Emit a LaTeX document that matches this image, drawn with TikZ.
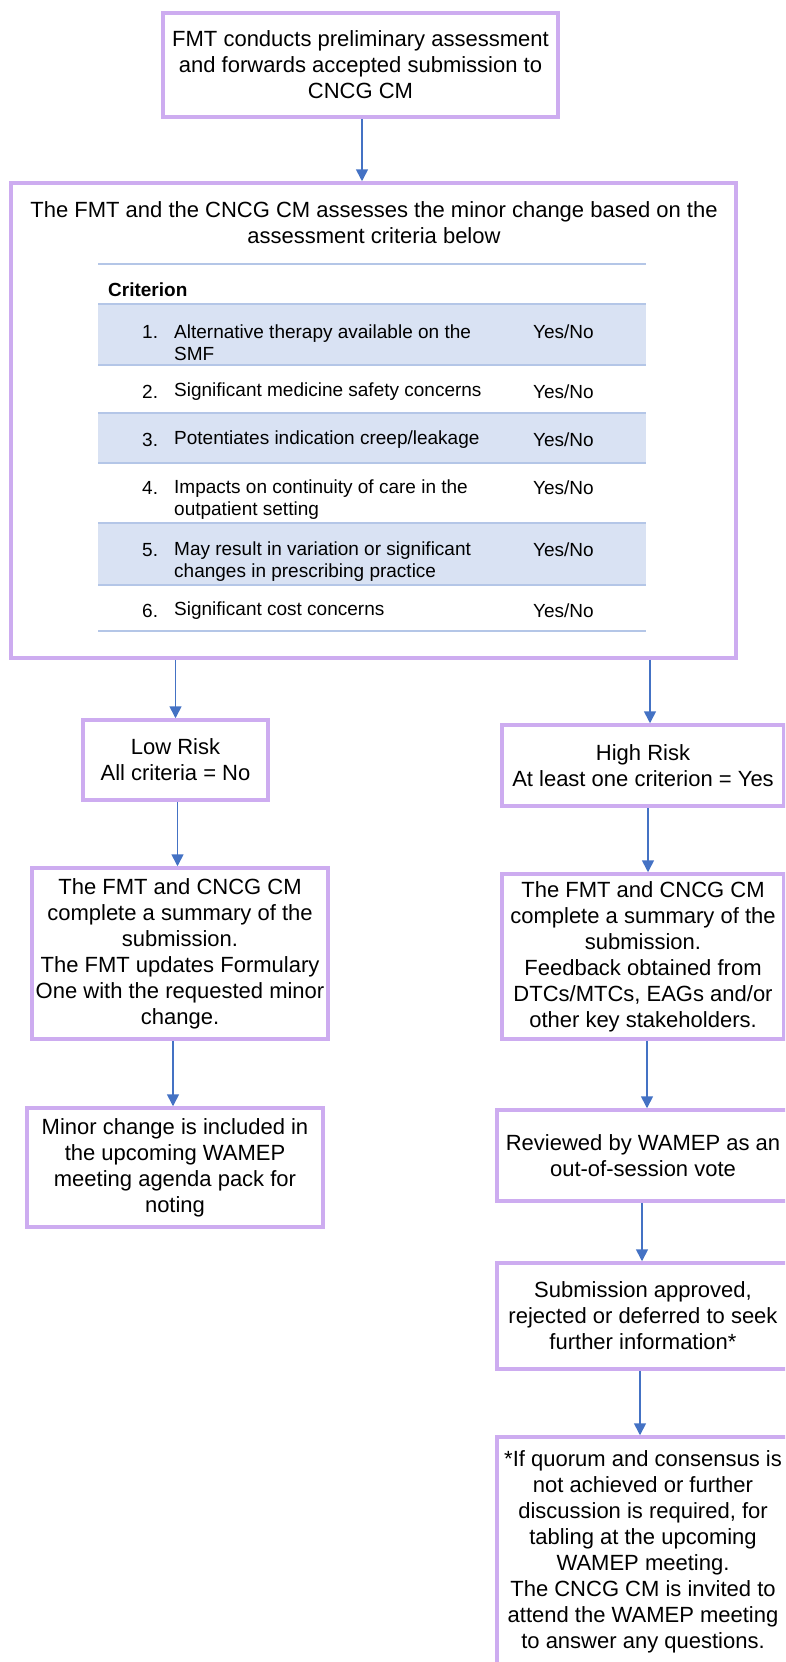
\documentclass[tikz,border=0pt]{standalone}
\usepackage{fontspec}
\setmainfont{Liberation Sans}
\usetikzlibrary{arrows.meta}
\definecolor{boxline}{RGB}{205,172,240}
\definecolor{arrowblue}{RGB}{68,114,196}
\definecolor{rowfill}{RGB}{217,226,243}
\definecolor{rulecol}{RGB}{180,198,231}
\begin{document}
\begin{tikzpicture}[x=1pt,y=-1pt,
  flowbox/.style={draw=boxline, line width=3.5pt, fill=white, inner sep=0pt,
    align=center, font=\fontsize{22}{26}\selectfont},
  flow/.style={draw=arrowblue, line width=1.6pt, -{Triangle[length=12pt,width=12pt]}},
  celltext/.style={anchor=west, inner sep=0pt, align=left, font=\fontsize{19}{22}\selectfont},
  tablerule/.style={draw=rulecol, line width=1.5pt}]

\useasboundingbox (0,0) rectangle (785,1662);
\clip (0,0) rectangle (785,1662);

% ---- top step
\node[flowbox, minimum width=395pt, minimum height=104pt] (start) at (360.5,65)
  {FMT conducts preliminary assessment\\and forwards accepted submission to\\CNCG CM};

% ---- assessment box with criteria table
\node[flowbox, minimum width=725pt, minimum height=475pt] (assess) at (373.5,420.5) {};
\node[inner sep=0pt, align=center, font=\fontsize{22}{26}\selectfont] (assesstitle) at (374,223)
  {The FMT and the CNCG CM assesses the minor change based on the\\assessment criteria below};

% shaded rows
\fill[rowfill] (98,304) rectangle (646,365);
\fill[rowfill] (98,413) rectangle (646,463);
\fill[rowfill] (98,523) rectangle (646,585);
% horizontal rules
\foreach \yy in {264,304,365,413,463,523,585,631}
  \draw[tablerule] (98,\yy) -- (646,\yy);

\node[celltext, font=\fontsize{19}{22}\selectfont\bfseries] (crithead) at (108,290) {Criterion};

\node[celltext] (n1) at (142,332) {1.};
\node[celltext] (c1) at (174,342.5) {Alternative therapy available on the\\SMF};
\node[celltext] (y1) at (533,332) {Yes/No};

\node[celltext] (n2) at (142,392) {2.};
\node[celltext] (c2) at (174,392) {Significant medicine safety concerns};
\node[celltext] (y2) at (533,392) {Yes/No};

\node[celltext] (n3) at (142,440) {3.};
\node[celltext] (c3) at (174,440) {Potentiates indication creep/leakage};
\node[celltext] (y3) at (533,440) {Yes/No};

\node[celltext] (n4) at (142,488) {4.};
\node[celltext] (c4) at (174,500) {Impacts on continuity of care in the\\outpatient setting};
\node[celltext] (y4) at (533,488) {Yes/No};

\node[celltext] (n5) at (142,550) {5.};
\node[celltext] (c5) at (174,561.5) {May result in variation or significant\\changes in prescribing practice};
\node[celltext] (y5) at (533,550) {Yes/No};

\node[celltext] (n6) at (142,611) {6.};
\node[celltext] (c6) at (174,611) {Significant cost concerns};
\node[celltext] (y6) at (533,611) {Yes/No};

% ---- low risk branch
\node[flowbox, minimum width=185pt, minimum height=80pt] (low) at (175.5,760)
  {Low Risk\\All criteria = No};
\node[flowbox, minimum width=296pt, minimum height=171pt] (lsum) at (180,953.5)
  {The FMT and CNCG CM\\complete a summary of the\\submission.\\The FMT updates Formulary\\One with the requested minor\\change.};
\node[flowbox, minimum width=296pt, minimum height=119pt] (minor) at (175,1167.5)
  {Minor change is included in\\the upcoming WAMEP\\meeting agenda pack for\\noting};

% ---- high risk branch
\node[flowbox, minimum width=282pt, minimum height=81pt] (high) at (643,765.5)
  {High Risk\\At least one criterion = Yes};
\node[flowbox, minimum width=282pt, minimum height=165pt] (rsum) at (643,956.5)
  {The FMT and CNCG CM\\complete a summary of the\\submission.\\Feedback obtained from\\DTCs/MTCs, EAGs and/or\\other key stakeholders.};
\node[flowbox, minimum width=292pt, minimum height=91pt] (review) at (643,1155.5)
  {Reviewed by WAMEP as an\\out-of-session vote};
\node[flowbox, minimum width=292pt, minimum height=106pt] (decision) at (643,1316)
  {Submission approved,\\rejected or deferred to seek\\further information*};
\node[flowbox, minimum width=292pt, minimum height=229pt] (note) at (643,1551.5)
  {*If quorum and consensus is\\not achieved or further\\discussion is required, for\\tabling at the upcoming\\WAMEP meeting.\\The CNCG CM is invited to\\attend the WAMEP meeting\\to answer any questions.};

% ---- connectors
\draw[flow] ([xshift=1.5pt]start.south) -- ([xshift=1.5pt]start.south |- assess.north);
\draw[flow] (low.north |- assess.south) -- (low.north);
\draw[flow] ([xshift=7pt]high.north |- assess.south) -- ([xshift=7pt]high.north);
\draw[flow] ([xshift=2pt]low.south) -- ([xshift=2pt]low.south |- lsum.north);
\draw[flow] ([xshift=-2pt]minor.north |- lsum.south) -- ([xshift=-2pt]minor.north);
\draw[flow] ([xshift=5pt]high.south) -- ([xshift=5pt]high.south |- rsum.north);
\draw[flow] ([xshift=4pt]rsum.south) -- ([xshift=4pt]rsum.south |- review.north);
\draw[flow] ([xshift=-1pt]review.south) -- ([xshift=-1pt]review.south |- decision.north);
\draw[flow] ([xshift=-3pt]decision.south) -- ([xshift=-3pt]decision.south |- note.north);
\end{tikzpicture}
\end{document}
